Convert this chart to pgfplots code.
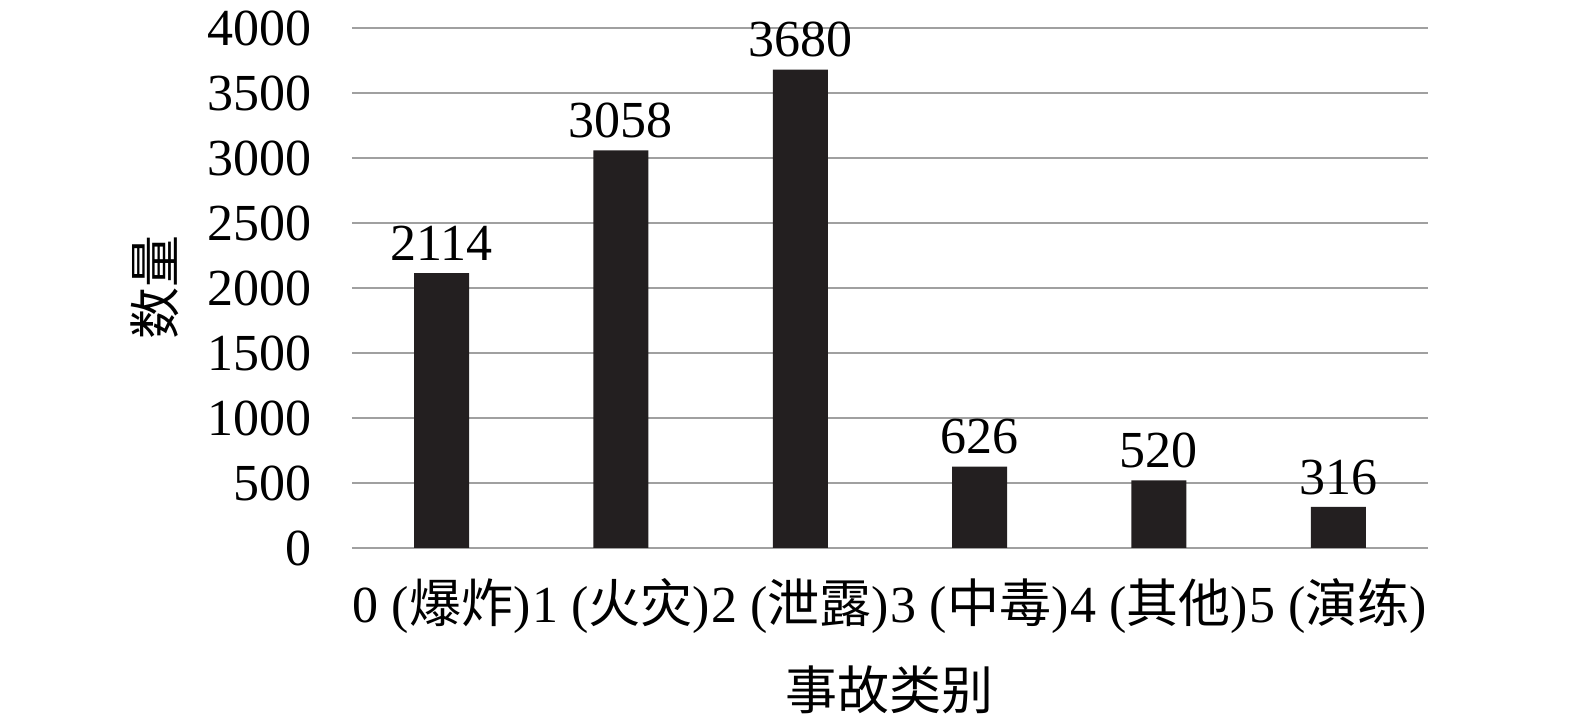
\documentclass[border=0pt]{standalone}
\usepackage{fontspec}
\setmainfont{Liberation Serif}
\newfontfamily\cjk{Noto Sans CJK SC}
\usepackage{pgfplots}
\pgfplotsset{compat=1.18}
\definecolor{barfill}{HTML}{231F20}
\definecolor{gridgray}{HTML}{A0A0A0}

\begin{document}
\begin{tikzpicture}
\begin{axis}[
    ybar,
    scale only axis,
    width=538pt,
    height=260pt,
    bar width=27.5pt,
    xmin=-0.5, xmax=5.5,
    ymin=0, ymax=4000,
    xtick=data,
    xticklabels={{0 ({\cjk 爆炸})},{1 ({\cjk 火灾})},{2 ({\cjk 泄露})},{3 ({\cjk 中毒})},{4 ({\cjk 其他})},{5 ({\cjk 演练})}},
    ytick={0,500,...,4000},
    axis line style={draw=none},
    major tick length=0pt,
    ymajorgrids=true,
    grid style={gridgray, line width=1pt},
    tick label style={font=\fontsize{26}{30}\selectfont},
    /pgf/number format/assume math mode=true,
    /pgf/number format/1000 sep={},
    yticklabel style={inner sep=0pt, xshift=-20pt},
    xticklabel style={inner sep=0pt, yshift=-15pt},
    label style={font=\fontsize{26}{30}\selectfont\cjk},
    xlabel={事故类别},
    ylabel={数量},
    xlabel style={at={(axis description cs:0.5,-0.2731)}, anchor=center},
    ylabel style={at={(axis description cs:-0.1831,0.5)}, anchor=center},
    nodes near coords,
    nodes near coords style={font=\fontsize{26}{30}\selectfont, inner sep=0pt, yshift=6pt, text=black},
    clip=false,
]
\addplot[fill=barfill, draw=none] coordinates {(0,2114) (1,3058) (2,3680) (3,626) (4,520) (5,316)};
\draw[draw=none] (rel axis cs:0,0) ++(-176pt,-89pt) rectangle ++(787.5pt,363pt);
\end{axis}
\end{tikzpicture}
\end{document}
